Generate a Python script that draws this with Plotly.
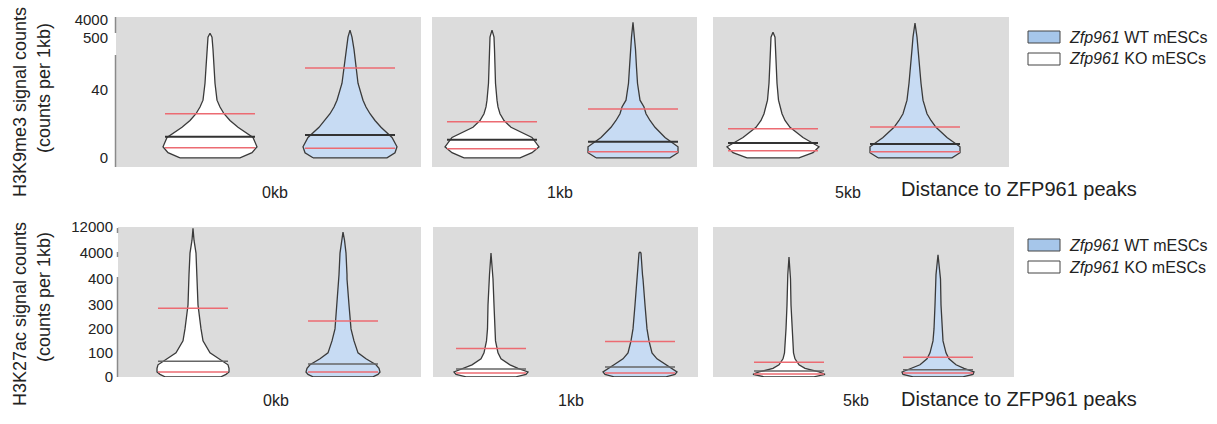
import numpy as np
import plotly.graph_objects as go

W, H = 1217, 424

# ---------------- data ----------------
categories = ["0kb", "1kb", "5kb"]
group_wt = "<i>Zfp961</i> WT mESCs"
group_ko = "<i>Zfp961</i> KO mESCs"

# H3K9me3 (top row)
k9_tick_vals = [0, 40, 500, 4000]
k9_tick_text = ["0", "40", "500", "4000"]
k9_levels = [0, 3, 6.5, 12, 18, 22, 26, 30, 34, 100, 240, 400, 700]
k9_ko_max = [1470, 2055, 1666]
k9_wt_max = [2055, 3610, 3416]
k9_ko_density_0kb = [30, 42, 47, 43, 28, 20, 14, 10, 7, 5, 4, 3, 2]
k9_ko_density_1kb = [28, 40, 47, 40, 19, 12, 8, 6, 5, 3.5, 3, 2.5, 2]
k9_ko_density_5kb = [26, 40, 46, 30, 17, 12, 9, 7, 5.5, 4, 3, 2.5, 2]
k9_wt_density_0kb = [37, 45, 47, 42, 31, 25, 20, 16, 13, 8, 6, 4, 2]
k9_wt_density_1kb = [37, 45, 45, 32, 22, 17, 13, 11, 7, 4.5, 3.5, 2.5, 1.5]
k9_wt_density_5kb = [37, 45, 45, 32, 21, 16, 12, 10, 8, 6, 4.3, 3, 2]
k9_ko_mean = [26, 21.2, 17.1]
k9_wt_mean = [235, 28.8, 18.2]
k9_ko_median = [12.4, 10.6, 8.8]
k9_wt_median = [13.5, 9.4, 8.2]
k9_ko_q25 = [5.9, 5.3, 4.1]
k9_wt_q25 = [5.7, 3.5, 3.5]

# H3K27ac (bottom row)
k27_tick_vals = [0, 100, 200, 300, 400, 4000, 12000]
k27_tick_text = ["0", "100", "200", "300", "400", "4000", "12000"]
k27_levels = [0, 10, 20, 35, 50, 75, 100, 150, 200, 300, 400, 1000, 4000, 8000]
k27_ko_max = [11700, 4000, 3450]
k27_wt_max = [10460, 4300, 3770]
k27_ko_density_0kb = [28, 33, 36, 36, 35, 26, 17, 10, 8, 5, 3.5, 4, 3, 1]
k27_ko_density_1kb = [25, 35, 37, 27, 19, 10, 7, 4.5, 3.5, 3, 2, 1.5, None, None]
k27_ko_density_5kb = [25, 36, 30, 16, 10, 6, 4.5, 3.5, 3, 2, 1.5, 1.2, None, None]
k27_wt_density_0kb = [30, 35, 37, 36, 33, 23, 15, 11, 8, 6, 4, 4, 3, 1.5]
k27_wt_density_1kb = [26, 35, 37, 32, 26, 17, 12, 9, 7, 5, 3, 2.5, 1, None]
k27_wt_density_5kb = [25, 35, 36, 26, 18, 11, 8, 5, 4, 3, 2.5, 2, None, None]
k27_ko_mean = [286, 118, 61]
k27_wt_mean = [233, 147, 82]
k27_ko_median = [65, 33, 24]
k27_wt_median = [53, 41, 29]
k27_ko_q25 = [20, 16, 12]
k27_wt_q25 = [20, 16, 16]

# ---------------- layout / styles ----------------
FONT = "Liberation Sans, Arial, sans-serif"
BG = "#dcdcdc"
WT_FILL = "#c7dbf3"
WT_LEGEND = "#a6c6ea"
OUTLINE = "#3a3a3a"
RED = "#ec6b72"

rows = [
    dict(
        top=17, bottom=167,
        tick_px=[158, 90, 38, 20],
        tick_vals=k9_tick_vals, tick_text=k9_tick_text,
        levels=k9_levels,
        ko_max=k9_ko_max, wt_max=k9_wt_max,
        ko_dens=[k9_ko_density_0kb, k9_ko_density_1kb, k9_ko_density_5kb],
        wt_dens=[k9_wt_density_0kb, k9_wt_density_1kb, k9_wt_density_5kb],
        ko_mean=k9_ko_mean, wt_mean=k9_wt_mean,
        ko_med=k9_ko_median, wt_med=k9_wt_median,
        ko_q=k9_ko_q25, wt_q=k9_wt_q25,
        panels=[(116, 421), (432, 697), (713, 1009)],
        centers=[(210, 350), (492, 633), (773, 915)],
        maxhw=47, dens_max=47, line_half=45,
        med_color="#333333", med_width=2,
        standoff=7,
        title1="H3K9me3 signal counts", title2="(counts per 1kb)",
        t1_y=102, t2_y=88,
        cat_y=192, cat_x=[275, 560, 848],
        dist_y=189,
        breaks=[(17, 33), (55, 167)],
        leg_y=[37, 59],
    ),
    dict(
        top=227, bottom=377,
        tick_px=[377, 353, 329, 305, 279, 253, 227],
        tick_vals=k27_tick_vals, tick_text=k27_tick_text,
        levels=k27_levels,
        ko_max=k27_ko_max, wt_max=k27_wt_max,
        ko_dens=[k27_ko_density_0kb, k27_ko_density_1kb, k27_ko_density_5kb],
        wt_dens=[k27_wt_density_0kb, k27_wt_density_1kb, k27_wt_density_5kb],
        ko_mean=k27_ko_mean, wt_mean=k27_wt_mean,
        ko_med=k27_ko_median, wt_med=k27_wt_median,
        ko_q=k27_ko_q25, wt_q=k27_wt_q25,
        panels=[(118, 421), (433, 698), (713, 1014)],
        centers=[(193, 343), (491, 640), (789, 938)],
        maxhw=37, dens_max=37, line_half=35,
        med_color="#666666", med_width=1.5,
        standoff=4,
        title1="H3K27ac signal counts", title2="(counts per 1kb)",
        t1_y=314, t2_y=297,
        cat_y=400, cat_x=[276, 571, 856],
        dist_y=399,
        breaks=[(228, 233), (252, 257), (277, 377)],
        leg_y=[245, 267],
    ),
]


def px_to_fx(px):
    return px / W


def px_to_fy(py):
    return 1 - py / H


fig = go.Figure()
layout = dict(
    width=W, height=H, autosize=False,
    margin=dict(l=0, r=0, t=0, b=0, pad=0, autoexpand=False),
    paper_bgcolor="white",
    plot_bgcolor=BG,
    showlegend=False,
    font=dict(family=FONT, color="#222222"),
)
shapes = []
annotations = []

for r, row in enumerate(rows):
    span = row["bottom"] - row["top"]

    def to_frac(v, row=row, span=span):
        p = np.interp(np.asarray(v, dtype=float), row["tick_vals"], row["tick_px"])
        return (row["bottom"] - p) / span

    for c in range(3):
        n = r * 3 + c + 1
        xa = "x" if n == 1 else f"x{n}"
        ya = "y" if n == 1 else f"y{n}"
        L, R = row["panels"][c]
        c0, c1 = row["centers"][c]
        ppu = c1 - c0
        xr = [(L - c0) / ppu, (R - c0) / ppu]
        layout["xaxis" if n == 1 else f"xaxis{n}"] = dict(
            domain=[px_to_fx(L), px_to_fx(R)], range=xr, anchor=ya,
            showgrid=False, zeroline=False, showticklabels=False,
            showline=False, ticks="", fixedrange=True, automargin=False,
        )
        yax = dict(
            domain=[px_to_fy(row["bottom"]), px_to_fy(row["top"])],
            range=[-0.0015, 1.0015], anchor=xa,
            showgrid=False, zeroline=False, showline=False, ticks="",
            fixedrange=True, automargin=False,
        )
        if c == 0:
            yax.update(
                tickvals=list(to_frac(row["tick_vals"])),
                ticktext=row["tick_text"],
                tickfont=dict(size=15, family=FONT, color="#222222"),
                ticklabelstandoff=row["standoff"],
                showticklabels=True,
            )
        else:
            yax.update(showticklabels=False)
        layout["yaxis" if n == 1 else f"yaxis{n}"] = yax

        hw_scale = row["maxhw"] / row["dens_max"] / ppu
        half_line = row["line_half"] / ppu

        for xpos, dens, vmax, fill, mean, med, q in [
            (0, row["ko_dens"][c], row["ko_max"][c], "white",
             row["ko_mean"][c], row["ko_med"][c], row["ko_q"][c]),
            (1, row["wt_dens"][c], row["wt_max"][c], WT_FILL,
             row["wt_mean"][c], row["wt_med"][c], row["wt_q"][c]),
        ]:
            pts = [(lv, d) for lv, d in zip(row["levels"], dens)
                   if d is not None and lv < vmax]
            pts.append((vmax, 0.0))
            lv = np.array([p[0] for p in pts])
            hw = np.array([p[1] for p in pts]) * hw_scale
            yy = to_frac(lv)
            xs = np.concatenate([xpos - hw, (xpos + hw)[::-1], [xpos - hw[0]]])
            ys = np.concatenate([yy, yy[::-1], [yy[0]]])
            fig.add_trace(go.Scatter(
                x=xs, y=ys, xaxis=xa, yaxis=ya, mode="lines",
                fill="toself", fillcolor=fill,
                line=dict(color=OUTLINE, width=1.3),
                hoverinfo="skip",
            ))
            for val, col, wd in [(q, RED, 1.5), (med, row["med_color"], row["med_width"]),
                                 (mean, RED, 1.5)]:
                yv = float(to_frac(val))
                fig.add_trace(go.Scatter(
                    x=[xpos - half_line, xpos + half_line], y=[yv, yv],
                    xaxis=xa, yaxis=ya, mode="lines",
                    line=dict(color=col, width=wd), hoverinfo="skip",
                ))

        annotations.append(dict(
            x=px_to_fx(row["cat_x"][c]), y=px_to_fy(row["cat_y"]),
            xref="paper", yref="paper", text=categories[c], showarrow=False,
            xanchor="center", yanchor="middle",
            font=dict(size=16, family=FONT, color="#222222"),
        ))

    # broken left axis line
    L0 = row["panels"][0][0]
    for (a, b) in row["breaks"]:
        shapes.append(dict(
            type="line", xref="paper", yref="paper",
            x0=px_to_fx(L0 - 0.5), x1=px_to_fx(L0 - 0.5),
            y0=px_to_fy(a), y1=px_to_fy(b),
            line=dict(color="#8a8a8a", width=1.5),
        ))

    # y titles
    annotations.append(dict(
        x=px_to_fx(20), y=px_to_fy(row["t1_y"]), xref="paper", yref="paper",
        text=row["title1"], showarrow=False, textangle=-90,
        xanchor="center", yanchor="middle",
        font=dict(size=18, family=FONT, color="#222222"),
    ))
    annotations.append(dict(
        x=px_to_fx(44), y=px_to_fy(row["t2_y"]), xref="paper", yref="paper",
        text=row["title2"], showarrow=False, textangle=-90,
        xanchor="center", yanchor="middle",
        font=dict(size=18, family=FONT, color="#222222"),
    ))
    # x title
    annotations.append(dict(
        x=px_to_fx(899), y=px_to_fy(row["dist_y"]), xref="paper", yref="paper",
        text="Distance to ZFP961 peaks", showarrow=False,
        xanchor="left", yanchor="middle",
        font=dict(size=20, family=FONT, color="#222222"),
    ))
    # legend
    for k, (label, fcol) in enumerate([(group_wt, WT_LEGEND), (group_ko, "white")]):
        yc = row["leg_y"][k]
        shapes.append(dict(
            type="rect", xref="paper", yref="paper",
            x0=px_to_fx(1028), x1=px_to_fx(1060),
            y0=px_to_fy(yc - 6), y1=px_to_fy(yc + 6),
            fillcolor=fcol, line=dict(color="#444444", width=1),
        ))
        annotations.append(dict(
            x=px_to_fx(1067), y=px_to_fy(yc), xref="paper", yref="paper",
            text=label, showarrow=False, xanchor="left", yanchor="middle",
            font=dict(size=16, family=FONT, color="#222222"),
        ))

layout["shapes"] = shapes
layout["annotations"] = annotations
fig.update_layout(**layout)

post = (
    "document.documentElement.style.margin='0';"
    "document.documentElement.style.overflow='hidden';"
    "document.body.style.margin='0';document.body.style.padding='0';"
    "document.body.style.overflow='hidden';"
    "var gd=document.getElementById('{plot_id}');"
    "gd.style.position='fixed';gd.style.left='0px';gd.style.top='0px';"
)
fig.write_html(
    "out.html",
    config={"displayModeBar": False, "responsive": False},
    post_script=post,
)
